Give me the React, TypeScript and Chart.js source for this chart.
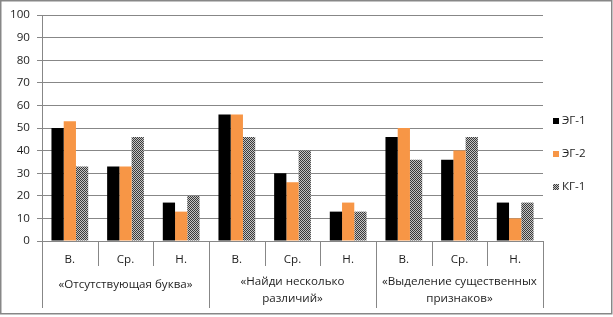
import React, { useEffect, useRef } from "react";
import { Chart, registerables } from "chart.js";

Chart.register(...registerables);

// ---- data ----
const categories = ["В.", "Ср.", "Н.", "В.", "Ср.", "Н.", "В.", "Ср.", "Н."];
const groupLabels = [
  ["«Отсутствующая буква»"],
  ["«Найди несколько", "различий»"],
  ["«Выделение существенных", "признаков»"],
];
const seriesNames = ["ЭГ-1", "ЭГ-2", "КГ-1"];
const eg1 = [50, 33, 17, 56, 30, 13, 46, 36, 17];
const eg2 = [53, 33, 13, 56, 26, 17, 50, 40, 10];
const kg1 = [33, 46, 20, 46, 40, 13, 36, 46, 17];
const yMin = 0;
const yMax = 100;
const yStep = 10;

const GRID = "#878787";
const TEXT = "#1e1e1e";
const FONT = "'Open Sans', 'Liberation Sans', sans-serif";
const FONT_SIZE = 11.6;

function makePattern(): CanvasPattern | string {
  const c = document.createElement("canvas");
  c.width = 2;
  c.height = 2;
  const g = c.getContext("2d");
  if (!g) return "#777";
  g.fillStyle = "#c4c4c4";
  g.fillRect(0, 0, 2, 2);
  g.fillStyle = "#3a3a3a";
  g.fillRect(0, 0, 1, 1);
  g.fillRect(1, 1, 1, 1);
  const p = g.createPattern(c, "repeat");
  return p || "#777";
}

const multiLevelPlugin = {
  id: "multiLevel",
  beforeDraw(chart: any) {
    const { ctx } = chart;
    ctx.save();
    ctx.strokeStyle = GRID;
    ctx.lineWidth = 1.5;
    ctx.strokeRect(0.75, 0.75, 611, 313);
    ctx.restore();
  },
  afterDraw(chart: any) {
    const { ctx, chartArea } = chart;
    const x = chart.scales.x;
    const n = categories.length;
    const step = x.getPixelForValue(1) - x.getPixelForValue(0);
    const boundary = (i: number) =>
      i < n ? x.getPixelForValue(i) - step / 2 : x.getPixelForValue(n - 1) + step / 2;
    const bottom = chartArea.bottom;
    ctx.save();
    ctx.strokeStyle = GRID;
    ctx.lineWidth = 1;
    for (let i = 0; i <= n; i++) {
      const px = Math.round(boundary(i)) + 0.5;
      const len = i % 3 === 0 ? 67 : 25;
      ctx.beginPath();
      ctx.moveTo(px, bottom);
      ctx.lineTo(px, bottom + len);
      ctx.stroke();
    }
    ctx.fillStyle = TEXT;
    ctx.font = `${FONT_SIZE}px ${FONT}`;
    ctx.textAlign = "center";
    ctx.textBaseline = "middle";
    for (let i = 0; i < n; i++) {
      ctx.fillText(categories[i], x.getPixelForValue(i), bottom + 18.5);
    }
    for (let gi = 0; gi < groupLabels.length; gi++) {
      const cx = (boundary(gi * 3) + boundary(gi * 3 + 3)) / 2;
      const lines = groupLabels[gi];
      const startY = lines.length === 1 ? bottom + 44 : bottom + 41;
      lines.forEach((ln, li) => ctx.fillText(ln, cx, startY + li * 16.5));
    }
    // legend
    const legendY = [121, 154, 187];
    chart.data.datasets.forEach((ds: any, i: number) => {
      ctx.fillStyle = ds.backgroundColor;
      ctx.fillRect(553, legendY[i] - 3, 6, 6);
      ctx.fillStyle = TEXT;
      ctx.textAlign = "left";
      ctx.fillText(ds.label, 562, legendY[i]);
    });
    ctx.restore();
  },
};

export default function App() {
  const ref = useRef<HTMLCanvasElement | null>(null);
  useEffect(() => {
    if (!ref.current) return;
    const pattern = makePattern();
    const chart = new Chart(ref.current, {
      type: "bar",
      data: {
        labels: categories,
        datasets: [
          { label: seriesNames[0], data: eg1, backgroundColor: "#000000" },
          { label: seriesNames[1], data: eg2, backgroundColor: "#F79646" },
          { label: seriesNames[2], data: kg1, backgroundColor: pattern as any },
        ],
      },
      options: {
        animation: false,
        responsive: false,
        layout: { padding: { left: 0, right: 70, top: 15, bottom: 0 } },
        datasets: { bar: { categoryPercentage: 0.66, barPercentage: 1 } },
        plugins: { legend: { display: false }, tooltip: { enabled: false } },
        scales: {
          x: {
            offset: true,
            ticks: { display: false },
            grid: { display: false },
            border: { display: true, color: GRID, width: 1 },
            afterFit: (s: any) => {
              s.height = 317 - 241;
            },
          },
          y: {
            min: yMin,
            max: yMax,
            ticks: {
              stepSize: yStep,
              padding: 7,
              color: TEXT,
              font: { family: FONT, size: FONT_SIZE },
            },
            grid: { color: GRID, tickLength: 5, lineWidth: 1 },
            border: { display: true, color: GRID, width: 1 },
            afterFit: (s: any) => {
              s.width = 42;
            },
          },
        },
      },
      plugins: [multiLevelPlugin],
    });
    return () => chart.destroy();
  }, []);
  return (
    <div style={{ position: "absolute", left: 0, top: 0, width: 613, height: 317, background: "#fff" }}>
      <canvas ref={ref} width={613} height={317} style={{ display: "block" }} />
    </div>
  );
}
